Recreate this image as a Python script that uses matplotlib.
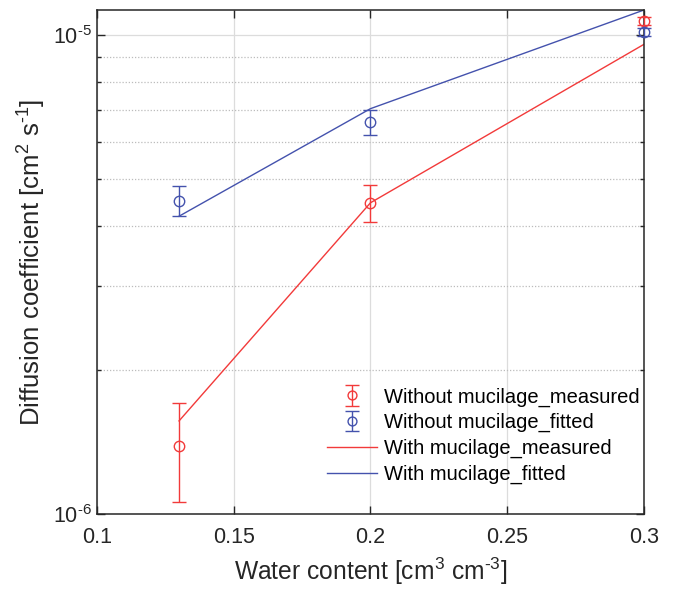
import matplotlib
matplotlib.use("Agg")
import matplotlib.pyplot as plt
import numpy as np
from matplotlib.ticker import LogLocator, NullFormatter, FixedLocator

plt.rcParams['font.family'] = ['Liberation Sans', 'DejaVu Sans']
plt.rcParams['mathtext.default'] = 'regular'

# water content
theta = np.array([0.13, 0.2, 0.3])

# without mucilage, measured (red points) and fitted (blue points)
d_meas = np.array([1.39e-6, 4.47e-6, 1.074e-5])
d_meas_lo = np.array([1.06e-6, 4.08e-6, 1.05e-5])
d_meas_hi = np.array([1.71e-6, 4.86e-6, 1.095e-5])

d_fit = np.array([4.50e-6, 6.58e-6, 1.015e-5])
d_fit_lo = np.array([4.19e-6, 6.18e-6, 0.995e-5])
d_fit_hi = np.array([4.84e-6, 6.97e-6, 1.035e-5])

# with mucilage (lines)
d_muc_meas = np.array([1.565e-6, 4.47e-6, 9.58e-6])
d_muc_fit = np.array([4.19e-6, 7.03e-6, 1.13e-5])

red = '#f23a3a'
blue = '#4452ad'
hy = '\u2010'  # short hyphen for exponents

fig = plt.figure(figsize=(6.75, 5.89), dpi=100)
ax = fig.add_axes([0.1437, 0.1273, 0.8103, 0.8557])

h1 = ax.errorbar(theta, d_meas, yerr=[d_meas - d_meas_lo, d_meas_hi - d_meas],
                 fmt='o', mfc='none', mec=red, ecolor=red, ms=7.5, mew=1.0,
                 elinewidth=1.0, capsize=5, capthick=1.0,
                 label='Without mucilage_measured', zorder=3)
h2 = ax.errorbar(theta, d_fit, yerr=[d_fit - d_fit_lo, d_fit_hi - d_fit],
                 fmt='o', mfc='none', mec=blue, ecolor=blue, ms=7.5, mew=1.0,
                 elinewidth=1.0, capsize=5, capthick=1.0,
                 label='Without mucilage_fitted', zorder=3)
for h in (h1, h2):
    for art in h.get_children():
        art.set_clip_on(False)
h3, = ax.plot(theta, d_muc_meas, color=red, lw=1.0, label='With mucilage_measured')
h4, = ax.plot(theta, d_muc_fit, color=blue, lw=1.0, label='With mucilage_fitted')

ax.set_yscale('log')
ax.set_xlim(0.1, 0.3)
ax.set_ylim(1e-6, 1.13e-5)
ax.set_xticks([0.1, 0.15, 0.2, 0.25, 0.3])
ax.set_xticklabels(['0.1', '0.15', '0.2', '0.25', '0.3'])
ax.yaxis.set_major_locator(FixedLocator([1e-6, 1e-5]))
ax.set_yticklabels(['$10^{' + hy + '6}$', '$10^{' + hy + '5}$'])
ax.yaxis.set_minor_locator(LogLocator(base=10, subs=np.arange(2, 10)))
ax.yaxis.set_minor_formatter(NullFormatter())

ax.grid(True, which='major', color='#dcdcdc', lw=0.9, ls='-')
ax.grid(True, which='minor', axis='y', color='#bcbcbc', lw=0.9, ls=(0, (1, 1.5)))
ax.set_axisbelow(True)

ax.tick_params(which='both', direction='in', top=True, right=True,
               labelsize=15.5, width=1.0, colors='#262626')
ax.tick_params(which='major', length=6)
ax.tick_params(which='minor', length=3)
ax.tick_params(axis='x', pad=9)
for s in ax.spines.values():
    s.set_linewidth(1.1)
    s.set_color('#262626')

ax.set_xlabel('Water content [cm$^3$ cm$^{' + hy + '3}$]', fontsize=17.7,
              color='#262626', labelpad=6)
ax.set_ylabel('Diffusion coefficient [cm$^2$ s$^{' + hy + '1}$]', fontsize=18.5,
              color='#262626', labelpad=4)

leg = ax.legend(handles=[h1, h2, h3, h4], loc='upper left', bbox_to_anchor=(0.42, 0.251),
                frameon=False, fontsize=14.5, handlelength=2.5, handletextpad=0.35,
                borderpad=0, borderaxespad=0, labelspacing=0.32, markerscale=0.85)

fig.savefig('out.png', dpi=100)
